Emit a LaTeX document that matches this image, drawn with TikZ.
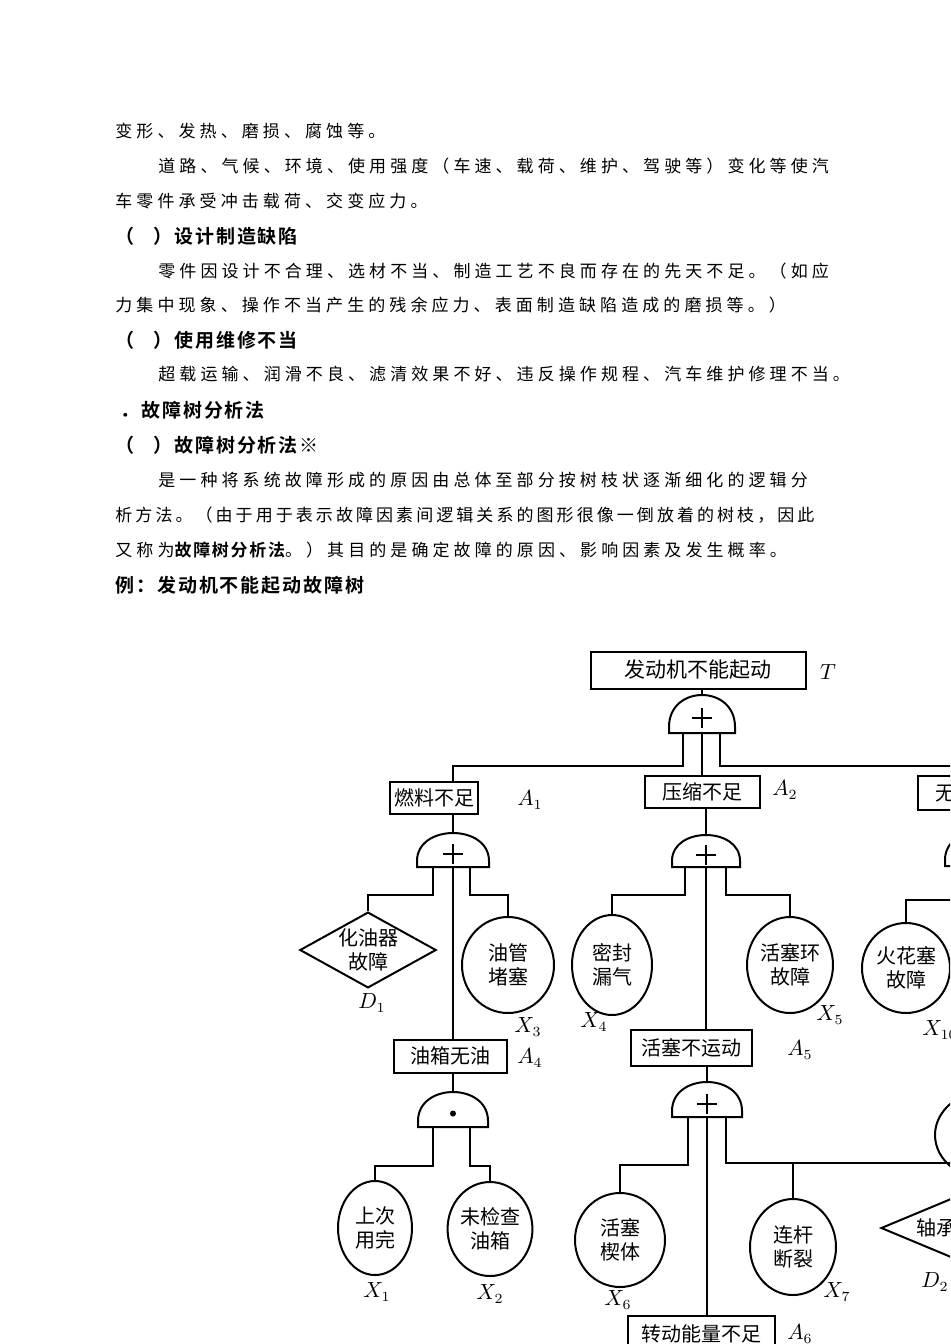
\documentclass[tikz,border=0pt]{standalone}
\usepackage{fontspec}
\usetikzlibrary{shapes.geometric}
\newfontfamily\cjk{Noto Sans CJK SC}
\newfontfamily\cjkbody[LetterSpace=24]{Noto Sans CJK SC}
\newfontfamily\cjkbodyb[LetterSpace=18]{Noto Sans CJK SC}
\newfontfamily\cjkhead[LetterSpace=10]{Noto Sans CJK SC Bold}
\newcommand\ftgate[5]{%
  \draw[gate] ({#1-#4},#3) -- ({#1-#4},{#3-6}) .. controls ({#1-#4},{#3-6+(#2-#3+6)/0.75}) and ({#1+#4},{#3-6+(#2-#3+6)/0.75}) .. ({#1+#4},{#3-6}) -- ({#1+#4},#3) -- cycle;
  \ifx#5+\draw[gate] ({#1-10},{(#2+#3)/2+4}) -- ({#1+10},{(#2+#3)/2+4}) ({#1},{(#2+#3)/2-6}) -- ({#1},{(#2+#3)/2+14});\else
  \fill ({#1},{(#2+#3)/2+4}) circle (3);\fi}
\begin{document}
\begin{tikzpicture}[x=0.5pt,y=-0.5pt,
  body/.style={anchor=west,inner sep=0,font=\fontsize{8.5}{9}\cjkbody},
  head/.style={anchor=west,inner sep=0,font=\fontsize{9.5}{10}\cjkhead},
  gate/.style={line width=1pt},
  ln/.style={line width=1pt},
  evbox/.style={draw,line width=1pt,inner sep=2pt,font=\fontsize{10}{11}\cjk},
  basic/.style={draw,ellipse,line width=1pt,inner sep=0,font=\fontsize{10}{12}\cjk,align=center},
  undev/.style={draw,diamond,line width=1pt,inner sep=0,aspect=1.8,font=\fontsize{10}{12}\cjk,align=center},
  lab/.style={font=\fontsize{10.5}{11}\selectfont,inner sep=0}]
\useasboundingbox (0,0) rectangle (950,1344);
\clip (0,0) rectangle (950,1344);
% text
\node[body] (l1) at (115,131) {变形、发热、磨损、腐蚀等。};
\node[body] (l2) at (158,166) {道路、气候、环境、使用强度（车速、载荷、维护、驾驶等）变化等使汽};
\node[body] (l3) at (115,201) {车零件承受冲击载荷、交变应力。};
\node[head] (l4) at (115,236) {（\quad）设计制造缺陷};
\node[body] (l5) at (158,271) {零件因设计不合理、选材不当、制造工艺不良而存在的先天不足。（如应};
\node[body] (l6) at (115,305) {力集中现象、操作不当产生的残余应力、表面制造缺陷造成的磨损等。）};
\node[head] (l7) at (115,340) {（\quad）使用维修不当};
\node[body] (l8) at (158,374) {超载运输、润滑不良、滤清效果不好、违反操作规程、汽车维护修理不当。};
\node[head] (l9) at (120,410) {．故障树分析法};
\node[head] (l10) at (115,445) {（\quad）故障树分析法※};
\node[body] (l11) at (158,480) {是一种将系统故障形成的原因由总体至部分按树枝状逐渐细化的逻辑分};
\node[body,font=\fontsize{8.5}{9}\cjkbodyb] (l12) at (115,515) {析方法。（由于用于表示故障因素间逻辑关系的图形很像一倒放着的树枝，因此};
\node[body] (l13) at (115,550) {又称为{\cjkhead 故障树分析法}。）其目的是确定故障的原因、影响因素及发生概率。};
\node[head] (l14) at (115,585) {例：发动机不能起动故障树};
% events
\node[evbox,minimum width=215*0.5pt,minimum height=37*0.5pt,font=\fontsize{10.5}{11}\cjk] (T) at (698,670) {发动机不能起动};
\node[lab] at (828,672) {$T$};
\node[evbox,minimum width=86*0.5pt,minimum height=32*0.5pt] (A1) at (434,798) {燃料不足};
\node[lab] at (530,800) {$A_1$};
\node[evbox,minimum width=115*0.5pt,minimum height=32*0.5pt] (A2) at (702,792) {压缩不足};
\node[lab] at (785,790) {$A_2$};
\node[evbox,minimum width=110*0.5pt,minimum height=34*0.5pt,anchor=west] (A3) at (917,793) {\ 无高压火};
\node[evbox,minimum width=113*0.5pt,minimum height=33*0.5pt] (A4) at (450,1056) {油箱无油};
\node[lab] at (530,1058) {$A_4$};
\node[evbox,minimum width=121*0.5pt,minimum height=36*0.5pt] (A5) at (691,1048) {活塞不运动};
\node[lab] at (800,1050) {$A_5$};
\node[evbox,minimum width=147*0.5pt,minimum height=36*0.5pt,anchor=north] (A6) at (701,1315) {转动能量不足};
\node[lab] at (800,1334) {$A_6$};
% gates
\ftgate{702}{695}{733}{33}{+}
\ftgate{453}{833}{867}{36}{+}
\ftgate{706}{835}{867}{34}{+}
\ftgate{453}{1092}{1127}{35}{.}
\ftgate{707}{1082}{1117}{35}{+}
\ftgate{985}{830}{866}{40}{+}
\draw[ln] (702,695) -- (702,0 |- T.south);
\draw[ln] (453,833) -- (453,0 |- A1.south);
\draw[ln] (706,835) -- (706,0 |- A2.south);
\draw[ln] (453,1092) -- (453,0 |- A4.south);
\draw[ln] (707,1082) -- (707,0 |- A5.south);
% basic/undeveloped
\node[undev,minimum width=135*0.5pt,minimum height=75*0.5pt] (D1) at (368,950) {化油器\\故障};
\node[lab] at (372,1003) {$D_1$};
\node[basic,minimum width=92*0.5pt,minimum height=96*0.5pt] (X3) at (508,965) {油管\\堵塞};
\node[lab] at (528,1027) {$X_3$};
\node[basic,minimum width=74*0.5pt,minimum height=94*0.5pt] (X1) at (375,1228) {上次\\用完};
\node[lab] at (377,1292) {$X_1$};
\node[basic,minimum width=74*0.5pt,minimum height=94*0.5pt] (X2) at (490,1229) {未检查\\油箱};
\node[lab] at (490,1294) {$X_2$};
\node[basic,minimum width=80*0.5pt,minimum height=100*0.5pt] (X4) at (612,965) {密封\\漏气};
\node[lab] at (594,1022) {$X_4$};
\node[basic,minimum width=86*0.5pt,minimum height=96*0.5pt] (X5) at (790,965) {活塞环\\故障};
\node[lab] at (830,1015) {$X_5$};
\node[basic,minimum width=90*0.5pt,minimum height=94*0.5pt] (X6) at (620,1240) {活塞\\楔体};
\node[lab] at (618,1300) {$X_6$};
\node[basic,minimum width=86*0.5pt,minimum height=96*0.5pt] (X7) at (793,1247) {连杆\\断裂};
\node[lab] at (837,1292) {$X_7$};
\node[undev,minimum width=150*0.5pt,minimum height=62*0.5pt,anchor=west] (D2) at (880,1228) {轴承咬死};
\node[lab] at (935,1282) {$D_2$};
\node[basic,minimum width=88*0.5pt,minimum height=90*0.5pt] (X10) at (906,968) {火花塞\\故障};
\node[lab] at (940,1030) {$X_{10}$};
\node[basic,minimum width=110*0.5pt,minimum height=90*0.5pt] (X11) at (990,1135) {};
% connectors
\draw[ln] (683,733) -- (683,766) -| (453,0 |- A1.north);
\draw[ln] (702,733) -- (702,0 |- A2.north);
\draw[ln] (720,733) -- (720,766) -- (960,766);
\draw[ln] (433,867) -- (433,895) -| (D1.north);
\draw[ln] (470,867) -- (470,895) -| (X3.north);
\draw[ln] (453,867) -- (453,0 |- A4.north);
\draw[ln] (433,1127) -- (433,1166) -| (X1.north);
\draw[ln] (470,1127) -- (470,1166) -| (X2.north);
\draw[ln] (685,867) -- (685,895) -| (X4.north);
\draw[ln] (726,867) -- (726,895) -| (X5.north);
\draw[ln] (706,867) -- (706,0 |- A5.north);
\draw[ln] (688,1117) -- (688,1165) -| (X6.north);
\draw[ln] (726,1117) -- (726,1163) -| (D2.north);
\draw[ln] (X7.north) |- (726,1163);
\draw[ln] (707,1117) -- (707,0 |- A6.north);
\draw[ln] (960,900) -| (X10.north);
\end{tikzpicture}
\end{document}
